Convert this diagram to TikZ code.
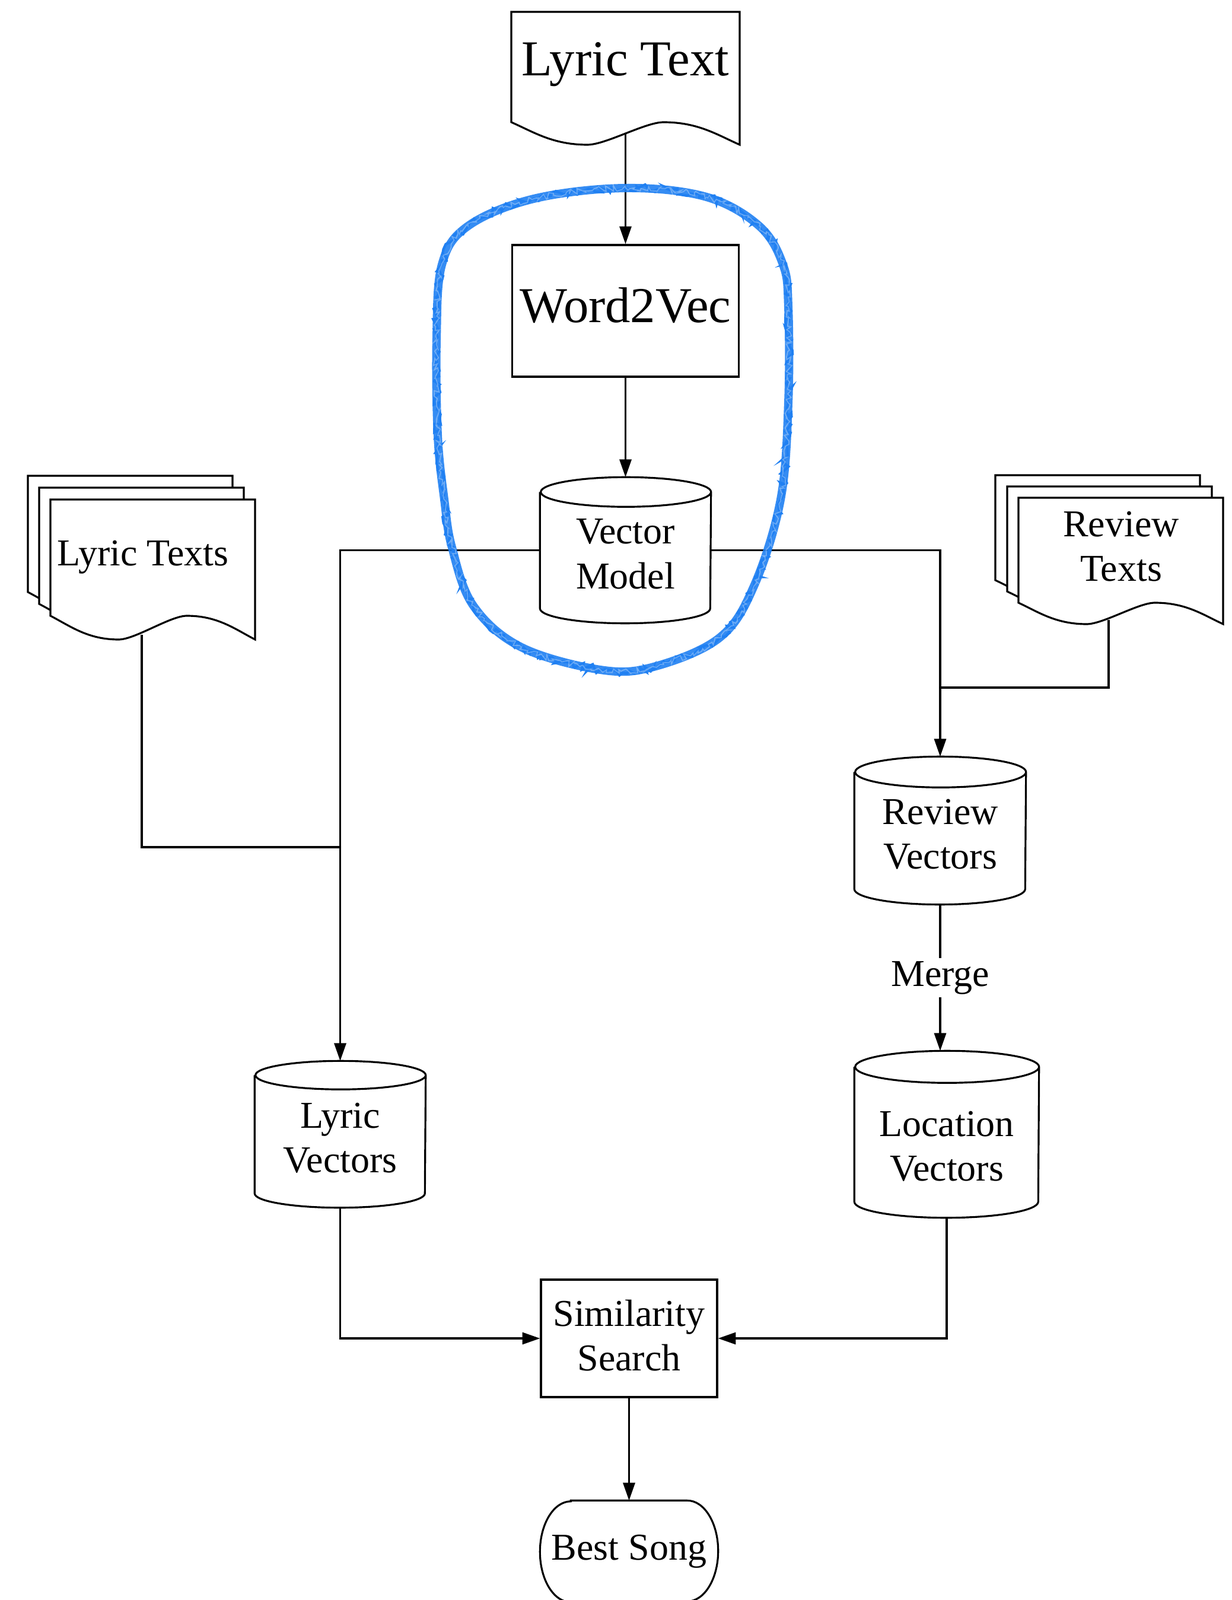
\documentclass[tikz,border=0pt]{standalone}
\usepackage{fontspec}
\setmainfont{Liberation Serif}
\usetikzlibrary{arrows.meta,calc,decorations.pathmorphing}
\definecolor{loopblue}{RGB}{32,128,242}
\newcommand\fntbig{\fontsize{24.1}{29}\selectfont}
\newcommand\fntsmall{\fontsize{18.2}{21.5}\selectfont}
% document shape: x left, y top, width, height, wave amplitude (cm)
\newcommand\docshape[5]{%
  \pgfmathsetmacro\dsxl{#1}%
  \pgfmathsetmacro\dsxr{#1+#3}%
  \pgfmathsetmacro\dsyb{#2-#4}%
  \pgfmathsetmacro\dsyl{#2-#4+#5}%
  \pgfmathsetmacro\dsxt{#1+#3/3}%
  \pgfmathsetmacro\dsxc{#1+2*#3/3}%
  \pgfmathsetmacro\dsce{0.10*#3}%
  \pgfmathsetmacro\dsct{0.15*#3}%
  \pgfmathsetmacro\dscb{0.45*#5}%
  \pgfmathsetmacro\dscc{0.08*#3}%
  \filldraw[shp,fill=white] (\dsxl,\dsyl) -- (\dsxl,#2) -- (\dsxr,#2) -- (\dsxr,\dsyb)
    .. controls (\dsxr-\dsce,\dsyb+\dscb) and (\dsxc+\dsct,\dsyl) .. (\dsxc,\dsyl)
    .. controls (\dsxc-\dscc,\dsyl) and (\dsxt+\dscc,\dsyb) .. (\dsxt,\dsyb)
    .. controls (\dsxt-\dsct,\dsyb) and (\dsxl+\dsce,\dsyl-\dscb) .. cycle;
}
% cylinder around a node: name, half width, ellipse y radius
\newcommand\cylshape[3]{%
  \draw[shp] ($(#1.north west)+(0,-#3)$) -- ($(#1.south west)+(0,#3)$)
    arc[start angle=180,end angle=360,x radius=#2,y radius=#3]
    -- ($(#1.north east)+(0,-#3)$)
    arc[start angle=0,end angle=180,x radius=#2,y radius=#3]
    arc[start angle=180,end angle=360,x radius=#2,y radius=#3];
}
% terminator around a node: name, x radius, y radius (half height)
\newcommand\termshape[3]{%
  \draw[shp] ($(#1.north west)+(#2,0)$) -- ($(#1.north east)+(-#2,0)$)
    arc[start angle=90,end angle=-90,x radius=#2,y radius=#3]
    -- ($(#1.south west)+(#2,0)$)
    arc[start angle=270,end angle=90,x radius=#2,y radius=#3] -- cycle;
}
\newcommand\loopcoords{(10.55,-3.17) (11.91,-3.32) (12.80,-3.81) (13.20,-4.46) (13.29,-5.17)
  (13.29,-6.79) (13.16,-8.42) (12.71,-9.88) (12.13,-10.75) (11.02,-11.24)
  (10.12,-11.29) (8.79,-10.91) (7.98,-10.21) (7.62,-9.23) (7.49,-8.42)
  (7.38,-7.34) (7.36,-5.71) (7.45,-4.46) (7.89,-3.81) (9.0,-3.35)}
\begin{document}
\begin{tikzpicture}[
  shp/.style={draw=black, line width=0.9pt},
  conn/.style={draw=black, line width=0.9pt},
  arr/.style={conn, -{Triangle[length=8.5pt,width=5.7pt]}},
  boxnode/.style={rectangle, draw=black, line width=0.9pt, inner sep=0pt, align=center, font=\fntsmall},
  plainnode/.style={rectangle, draw=none, inner sep=0pt, align=center, font=\fntsmall},
]
\fill[white] (0,0) rectangle (20.76,-26.97);
\useasboundingbox (0,0) rectangle (20.76,-26.97);
\clip (0,0) rectangle (20.76,-26.97);

% document shapes
\docshape{8.62}{-0.20}{3.85}{2.24}{0.38}
\docshape{0.47}{-8.02}{3.45}{2.36}{0.40}
\docshape{0.66}{-8.22}{3.45}{2.36}{0.40}
\docshape{0.85}{-8.42}{3.45}{2.36}{0.40}
\docshape{16.78}{-8.01}{3.45}{2.13}{0.36}
\docshape{16.98}{-8.20}{3.45}{2.13}{0.36}
\docshape{17.17}{-8.39}{3.45}{2.13}{0.36}

\node[plainnode, font=\fntbig, anchor=base] (lt) at (10.545,-1.28) {Lyric Text};
\node[plainnode, anchor=base] (lts) at (2.41,-9.53) {Lyric Texts};
\node[plainnode] (rts) at (18.90,-9.21) {Review\\Texts};
\coordinate (ltout) at (10.545,-2.25);
\coordinate (ltsout) at (2.39,-10.70);
\coordinate (rtsout) at (18.69,-10.45);

% process nodes
\node[boxnode, font=\fntbig, minimum width=3.82cm, minimum height=2.22cm] (w2v) at (10.545,-5.24) {Word2Vec\rule[-5.7pt]{0pt}{5.7pt}};
\node[plainnode, minimum width=2.87cm, minimum height=2.45cm] (vm) at (10.545,-9.275) {\rule{0pt}{15.6pt}Vector\\Model};
\node[plainnode, minimum width=2.88cm, minimum height=2.48cm] (rv) at (15.85,-14.00) {\rule{0pt}{15.6pt}Review\\Vectors};
\node[plainnode, minimum width=3.10cm, minimum height=2.80cm] (loc) at (15.96,-19.12) {\rule{0pt}{23.6pt}Location\\Vectors};
\node[plainnode, minimum width=2.87cm, minimum height=2.46cm] (lv) at (5.735,-19.12) {\rule{0pt}{15.6pt}Lyric\\Vectors};
\node[boxnode, minimum width=2.97cm, minimum height=1.98cm] (ss) at (10.605,-22.56) {Similarity\\Search\rule[-3pt]{0pt}{3pt}};
\node[plainnode, minimum width=2.99cm, minimum height=1.70cm] (bs) at (10.605,-26.15) {Best Song};

\cylshape{vm}{1.435cm}{0.25cm}
\cylshape{rv}{1.44cm}{0.26cm}
\cylshape{loc}{1.55cm}{0.27cm}
\cylshape{lv}{1.435cm}{0.24cm}
\termshape{bs}{0.52cm}{0.85cm}

% connectors
\coordinate (jl) at (5.735,-14.28);
\coordinate (jr) at (15.85,-11.59);
\draw[arr] (ltout) -- (ltout |- w2v.north);
\draw[arr] (w2v.south) -- (vm.north);
\draw[arr] (vm.west) -| (lv.north);
\draw[conn] (ltsout) |- (jl);
\draw[arr] (vm.east) -| (rv.north);
\draw[conn] (rtsout) |- (jr);
\draw[arr] (rv.south) -- node[plainnode, fill=white, inner sep=1.5pt] (merge) {Merge} (rv.south |- loc.north);
\draw[arr] (lv.south) |- (ss.west);
\draw[arr] (loc.south) |- (ss.east);
\draw[arr] (ss.south) -- (bs.north);

% hand-drawn (crayon) highlight
\draw[loopblue, opacity=0.9, line width=4pt, line cap=round, line join=round]
  plot[smooth cycle, tension=0.6] coordinates {\loopcoords};
\draw[loopblue, line width=1.2pt, decorate, decoration={random steps, segment length=1.6pt, amplitude=1.8pt}]
  plot[smooth cycle, tension=0.6] coordinates {\loopcoords};
\draw[white, opacity=0.3, line width=0.5pt, decorate, decoration={random steps, segment length=1.2pt, amplitude=1.4pt}]
  plot[smooth cycle, tension=0.6] coordinates {\loopcoords};
\end{tikzpicture}
\end{document}
